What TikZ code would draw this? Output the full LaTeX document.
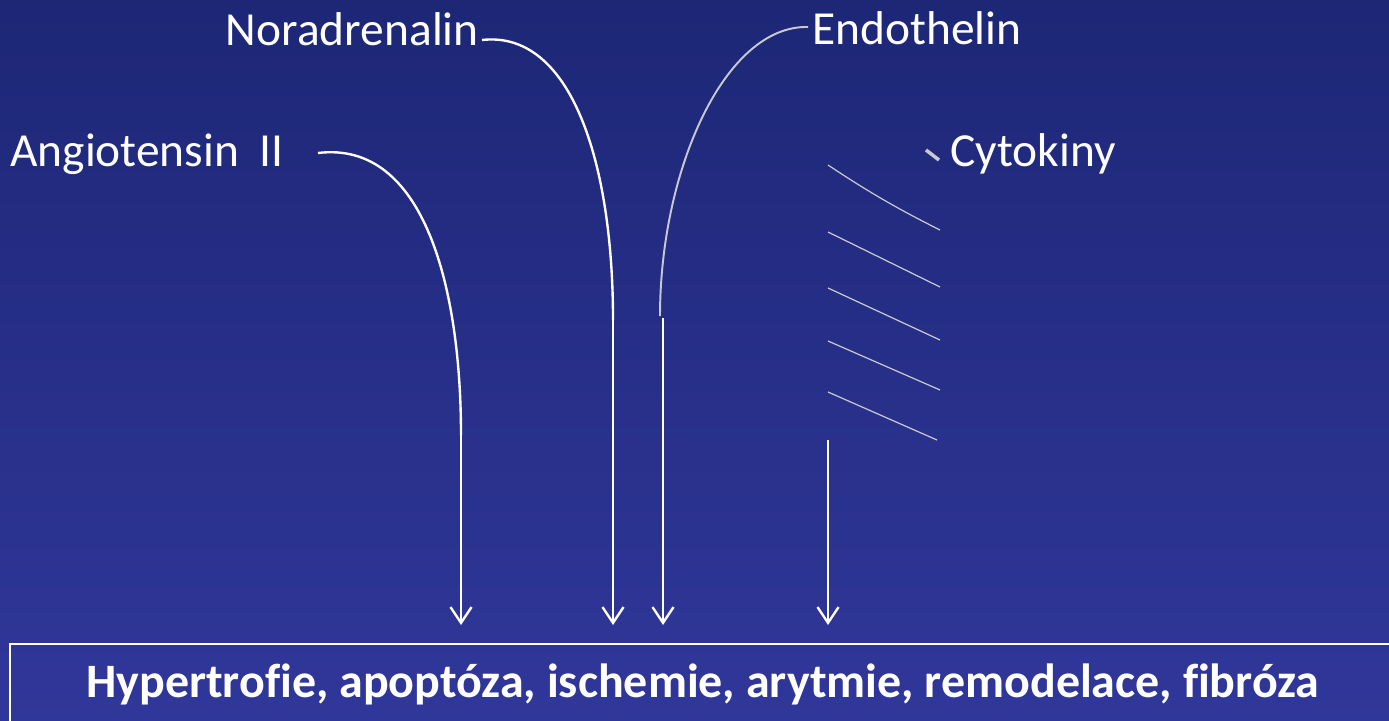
\documentclass[tikz,border=0pt]{standalone}
\usepackage{fontspec}
\setmainfont[Ligatures=NoCommon]{Carlito}
\usetikzlibrary{arrows.meta}
\definecolor{bgtop}{HTML}{1D2776}
\definecolor{bgbot}{HTML}{30379A}
\definecolor{linegrey}{HTML}{C8C8D0}
\tikzset{
  lbl/.style={text=white, font=\fontsize{27}{31}\selectfont, inner sep=0pt, anchor=base west},
  conn/.style={draw=white, line width=1.35pt},
  arr/.style={conn, -{Straight Barb[length=9pt, width=12pt, line width=1.35pt]}},
  greyline/.style={draw=linegrey, line width=0.7pt},
}
\begin{document}
\begin{tikzpicture}[x=0.02cm, y=-0.02cm]
\shade[top color=bgtop, bottom color=bgbot] (0,0) rectangle (1389,720);
\useasboundingbox (0,0) rectangle (1389,720);
% labels
\node[lbl] (ang) at (10,166) {Angiotensin\hspace{0.42em}II};
\node[lbl, anchor=base east] (nor) at (479,45) {Noradrenalin};
\node[lbl] (endo) at (812,44) {Endothelin};
\node[lbl] (cyt) at (950,166) {Cytokiny};
% bottom box
\draw[white, line width=1.2pt] (10,760) -- (10,644) -- (1400,644);
\node[text=white, font=\bfseries\fontsize{27.3}{31}\selectfont, inner sep=0pt, anchor=base] (box) at (703,697) {Hypertrofie, apoptóza, ischemie, arytmie, remodelace, fibróza};
% coordinates
\coordinate (a1) at (461,435);
\coordinate (a2) at (461,625);
\coordinate (n1) at (613,320);
\coordinate (n2) at (613,625);
\coordinate (e1) at (660,316);
\coordinate (e2) at (663,318);
\coordinate (e3) at (663,625);
\coordinate (c1) at (828,440);
\coordinate (c2) at (828,625);
% connectors
\draw[conn] (318,153) .. controls (425,140) and (461,290) .. (a1);
\draw[arr] (a1) -- (a2);
\draw[conn] (482,40) .. controls (570,30) and (613,160) .. (n1);
\draw[arr] (n1) -- (n2);
\draw[greyline, line width=1.1pt] (808,27) .. controls (725,25) and (660,170) .. (e1);
\draw[arr] (e2) -- (e3);
\draw[arr] (c1) -- (c2);
% cytokine lines
\draw[greyline, line width=2pt] (926,150) -- (939,160);
\draw[greyline] (828,165) .. controls (870,193) and (900,210) .. (940,230);
\draw[greyline] (828,232) -- (940,287);
\draw[greyline] (828,288) -- (940,340);
\draw[greyline] (828,341) -- (940,390);
\draw[greyline] (828,392) -- (937,440);
\end{tikzpicture}
\end{document}
